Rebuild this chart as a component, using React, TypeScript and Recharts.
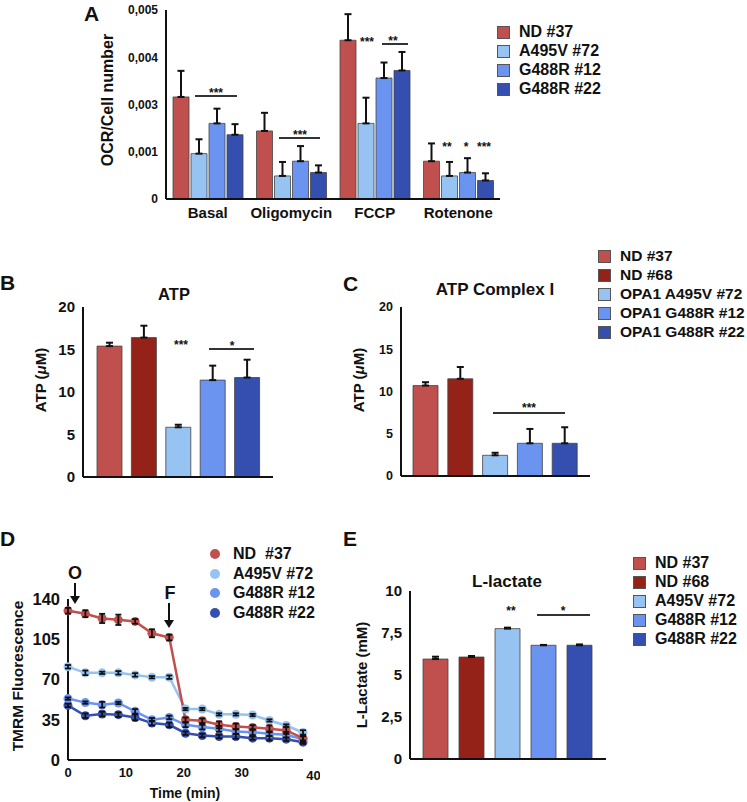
import React from "react"
import { Bar, BarChart, Cell, ErrorBar, Line, LineChart, XAxis, YAxis } from "recharts"

const FONT = '"Liberation Sans", Arial, Helvetica, sans-serif'
const INK = "#111"

const COLORS = {
  nd37: "#c0504d",
  nd68: "#952219",
  a495v: "#97c3f2",
  g12: "#6b93f0",
  g22: "#354fb0",
}

// Panel A: OCR per cell number
const aCategories = ["Basal", "Oligomycin", "FCCP", "Rotenone"]
const aND37 = [0.0027, 0.0018, 0.0042, 0.001]
const aND37Err = [0.00069, 0.00048, 0.00069, 0.00047]
const aA495V = [0.0012, 0.00061, 0.002, 0.00061]
const aA495VErr = [0.00038, 0.00037, 0.00068, 0.00037]
const aG12 = [0.002, 0.001, 0.0032, 0.0007]
const aG12Err = [0.00039, 0.0004, 0.00041, 0.00038]
const aG22 = [0.0017, 0.0007, 0.0034, 0.00049]
const aG22Err = [0.00028, 0.00019, 0.00049, 0.00019]
const aTickLabels = ["0", "0,001", "0,003", "0,004", "0,005"]
const aLegend = ["ND #37", "A495V #72", "G488R #12", "G488R #22"]

// Panels B, C, E: five cell lines
const fiveColors = [COLORS.nd37, COLORS.nd68, COLORS.a495v, COLORS.g12, COLORS.g22]
const fiveNames = ["ND #37", "ND #68", "A495V #72", "G488R #12", "G488R #22"]
const bValues = [15.4, 16.4, 5.85, 11.4, 11.7]
const bErr = [0.4, 1.4, 0.3, 1.7, 2.1]
const cValues = [10.7, 11.5, 2.45, 3.87, 3.87]
const cErr = [0.4, 1.4, 0.3, 1.7, 1.9]
const eValues = [5.95, 6.07, 7.76, 6.77, 6.77]
const eErr = [0.14, 0.06, 0.06, 0.02, 0.05]
const bcLegend = ["ND #37", "ND #68", "OPA1 A495V #72", "OPA1 G488R #12", "OPA1 G488R #22"]

// Panel D: TMRM fluorescence over time
const dTimes = [0, 3.0, 5.9, 8.7, 11.6, 14.5, 17.5, 20.3, 23.2, 26.1, 29.0, 31.9, 34.8, 37.7, 40.6]
const dND37 = [129.8, 127.2, 123.1, 121.9, 120.5, 110.2, 106.5, 35.0, 34.1, 30.6, 29.2, 28.3, 27.1, 25.7, 19.0]
const dND37Err = [2.5, 3, 4, 4.5, 2, 3.5, 2.5, 2, 2, 3, 2.5, 2, 3, 3, 3]
const dA495V = [81.1, 75.8, 75.8, 75.8, 74.0, 72.0, 72.0, 44.3, 44.3, 39.7, 39.7, 39.1, 34.4, 30.0, 23.9]
const dA495VErr = [1.5, 2, 1, 1.5, 1.5, 1, 1.5, 1, 1, 1, 1, 1, 1, 1, 2]
const dG12 = [53.4, 49.9, 48.1, 49.6, 42.3, 35.0, 37.0, 30.6, 28.6, 27.1, 24.8, 24.2, 22.8, 21.9, 18.1]
const dG12Err = [1, 1, 2.5, 1, 2, 1.5, 1.5, 2, 2, 2.5, 2, 2.5, 2, 2.5, 2.5]
const dG22 = [47.5, 38.5, 40.0, 39.4, 37.0, 32.1, 30.6, 23.3, 21.3, 20.4, 20.4, 19.0, 19.0, 18.1, 15.5]
const dG22Err = [1.5, 2, 2, 2, 2.5, 2, 2, 1.5, 1.5, 1.5, 2, 1.5, 2, 1.5, 1.5]
const dLegend = ["ND  #37", "A495V #72", "G488R #12", "G488R #22"]
const dColors = [COLORS.nd37, COLORS.a495v, COLORS.g12, COLORS.g22]

const aRows = aCategories.map((cat, i) => ({
  cat,
  nd37: aND37[i],
  nd37Err: [0, aND37Err[i]],
  a495v: aA495V[i],
  a495vErr: [0, aA495VErr[i]],
  g12: aG12[i],
  g12Err: [0, aG12Err[i]],
  g22: aG22[i],
  g22Err: [0, aG22Err[i]],
}))

const makeRows = (values: number[], errs: number[]) =>
  values.map((v, i) => ({ name: fiveNames[i], value: v, err: [0, errs[i]] }))

const dRows = dTimes.map((t, i) => ({
  t,
  nd37: dND37[i],
  nd37Err: dND37Err[i],
  a495v: dA495V[i],
  a495vErr: dA495VErr[i],
  g12: dG12[i],
  g12Err: dG12Err[i],
  g22: dG22[i],
  g22Err: dG22Err[i],
}))

const axisLine = { stroke: INK, strokeWidth: 2 }
const tickStyle = (size: number) => ({ fontSize: size, fontWeight: 700, fill: INK, fontFamily: FONT })

function Txt({ x, y, size = 15, children, anchor = "left", rotate = false }: any) {
  const tx = anchor === "center" ? "-50%" : "0"
  return (
    <div
      style={{
        position: "absolute",
        left: x,
        top: y,
        transform: rotate ? "translate(-50%,-50%) rotate(-90deg)" : `translate(${tx},-50%)`,
        fontFamily: FONT,
        fontWeight: 700,
        fontSize: size,
        color: INK,
        whiteSpace: "pre",
        lineHeight: 1,
      }}
    >
      {children}
    </div>
  )
}

function Stars({ x, y, text }: { x: number; y: number; text: string }) {
  return (
    <Txt x={x} y={y + 3} size={12} anchor="center">
      {text}
    </Txt>
  )
}

function SigLine({ x1, x2, y }: { x1: number; x2: number; y: number }) {
  return <div style={{ position: "absolute", left: x1, top: y - 0.75, width: x2 - x1, height: 1.5, background: "#333" }} />
}

function SquareLegend({ x, y, labels, colors, gap, size = 16 }: any) {
  return (
    <>
      {labels.map((label: string, i: number) => (
        <React.Fragment key={label}>
          <div
            style={{
              position: "absolute",
              left: x,
              top: y + i * gap - 6,
              width: 11,
              height: 11,
              background: colors[i],
              border: "1px solid #555",
            }}
          />
          <Txt x={x + 22} y={y + i * gap} size={size}>
            {label}
          </Txt>
        </React.Fragment>
      ))}
    </>
  )
}

function FiveBarChart({ left, top, width, height, yWidth, rows, tickSize, domain, ticks, fmt, padding }: any) {
  return (
    <div style={{ position: "absolute", left, top }}>
      <BarChart width={width} height={height} data={rows} margin={{ top: 10, right: 10, bottom: 0, left: 0 }}>
        <XAxis dataKey="name" height={20} tick={false} tickLine={false} axisLine={axisLine} padding={padding} />
        <YAxis
          width={yWidth}
          domain={domain}
          ticks={ticks}
          interval={0}
          tickFormatter={fmt}
          tickLine={false}
          axisLine={axisLine}
          tick={tickStyle(tickSize)}
        />
        <Bar dataKey="value" barSize={25} stroke="#444" strokeWidth={0.8} isAnimationActive={false}>
          {rows.map((_: any, i: number) => (
            <Cell key={i} fill={fiveColors[i]} />
          ))}
          <ErrorBar dataKey="err" width={3.5} strokeWidth={2} stroke={INK} />
        </Bar>
      </BarChart>
    </div>
  )
}

function DTick({ x, y, payload }: any) {
  const last = payload.value === 40
  return (
    <text
      x={x + (last ? 14 : 0)}
      y={y + (last ? 3 : 0)}
      dy="0.71em"
      textAnchor="middle"
      style={tickStyle(13)}
    >
      {payload.value}
    </text>
  )
}

function Arrow({ x, y1, y2 }: { x: number; y1: number; y2: number }) {
  return (
    <svg style={{ position: "absolute", left: x - 6, top: y1, overflow: "visible" }} width={12} height={y2 - y1}>
      <line x1={6} y1={0} x2={6} y2={y2 - y1 - 4} stroke={INK} strokeWidth={2} />
      <polygon points={`1,${y2 - y1 - 8} 11,${y2 - y1 - 8} 6,${y2 - y1}`} fill={INK} />
    </svg>
  )
}

// same plot geometry for the TMRM chart and its error-bar overlay
function TmrmChart({ overlay }: { overlay: boolean }) {
  const dKeys = ["g22", "g12", "a495v", "nd37"]
  const keyColor: Record<string, string> = COLORS
  return (
    <LineChart width={320} height={213} data={dRows} margin={{ top: 10, right: 17, bottom: 20, left: 0 }}>
      <XAxis
        dataKey="t"
        type="number"
        domain={[0, 40.6]}
        ticks={[0, 10, 20, 30, 40]}
        height={22}
        tickLine={false}
        axisLine={overlay ? false : axisLine}
        tick={overlay ? false : <DTick />}
      />
      <YAxis
        width={68}
        domain={[0, 140]}
        ticks={[0, 35, 70, 105, 140]}
        interval={0}
        tickLine={false}
        axisLine={overlay ? false : axisLine}
        tick={overlay ? false : tickStyle(16.5)}
      />
      {dKeys.map((k) =>
        overlay ? (
          <Line key={k} dataKey={k} stroke="none" dot={false} activeDot={false} isAnimationActive={false}>
            <ErrorBar dataKey={`${k}Err`} direction="y" width={3} strokeWidth={1.8} stroke={INK} />
          </Line>
        ) : (
          <Line
            key={k}
            dataKey={k}
            stroke={keyColor[k]}
            strokeWidth={2.5}
            dot={{ r: 4.5, fill: keyColor[k], stroke: keyColor[k], strokeWidth: 0 }}
            activeDot={false}
            isAnimationActive={false}
          />
        ),
      )}
    </LineChart>
  )
}

export default function App() {
  const aKeys = ["nd37", "a495v", "g12", "g22"]
  const aTicks = aTickLabels.map((_, i) => (i * 0.005) / (aTickLabels.length - 1))
  const aKeyColor: Record<string, string> = COLORS

  return (
    <div style={{ position: "absolute", left: 0, top: 0, width: 747, height: 802, background: "#fff", overflow: "hidden" }}>
      {/* Panel A */}
      <div style={{ position: "absolute", left: 0, top: 0 }}>
        <BarChart width={520} height={230} data={aRows} margin={{ top: 10, right: 20, bottom: 0, left: 0 }} barCategoryGap={7} barGap={2}>
          <XAxis dataKey="cat" height={31} tickLine={false} axisLine={axisLine} interval={0} tick={tickStyle(15)} />
          <YAxis
            width={166}
            domain={[0, 0.005]}
            ticks={aTicks}
            interval={0}
            tickFormatter={(_: number, i: number) => aTickLabels[i]}
            tickLine={false}
            axisLine={axisLine}
            tick={tickStyle(12)}
          />
          {aKeys.map((k) => (
            <Bar key={k} dataKey={k} fill={aKeyColor[k]} stroke="#444" strokeWidth={0.8} isAnimationActive={false}>
              <ErrorBar dataKey={`${k}Err`} width={3.5} strokeWidth={2} stroke={INK} />
            </Bar>
          ))}
        </BarChart>
      </div>
      <Txt x={84} y={13} size={21}>A</Txt>
      <Txt x={108} y={100} size={16} rotate>OCR/Cell number</Txt>
      <SquareLegend x={497} y={32} labels={aLegend} colors={[COLORS.nd37, COLORS.a495v, COLORS.g12, COLORS.g22]} gap={19} />
      <SigLine x1={195} x2={237} y={96} />
      <Stars x={216} y={90} text="***" />
      <SigLine x1={279} x2={320} y={138} />
      <Stars x={300} y={132} text="***" />
      <Stars x={367} y={39} text="***" />
      <SigLine x1={382} x2={408} y={44} />
      <Stars x={393} y={38} text="**" />
      <Stars x={447} y={144} text="**" />
      <Stars x={466} y={144} text="*" />
      <Stars x={484} y={144} text="***" />

      {/* Panel B */}
      <FiveBarChart
        left={0}
        top={297}
        width={283}
        height={200}
        yWidth={83}
        rows={makeRows(bValues, bErr)}
        tickSize={15}
        domain={[0, 20]}
        ticks={[0, 5, 10, 15, 20]}
        padding={{ left: 9, right: 9 }}
      />
      <Txt x={0} y={282} size={21}>B</Txt>
      <Txt x={174} y={294} size={16.5} anchor="center">ATP</Txt>
      <Txt x={40} y={380} size={15} rotate>
        ATP (<span style={{ fontStyle: "italic" }}>μ</span>M)
      </Txt>
      <Stars x={181} y={342} text="***" />
      <SigLine x1={209} x2={254} y={349} />
      <Stars x={232} y={343} text="*" />

      {/* Panel C */}
      <FiveBarChart
        left={330}
        top={297}
        width={270}
        height={199}
        yWidth={71}
        rows={makeRows(cValues, cErr)}
        tickSize={12.5}
        domain={[0, 20]}
        ticks={[0, 5, 10, 15, 20]}
        padding={{ left: 7, right: 8 }}
      />
      <Txt x={343} y={283} size={21}>C</Txt>
      <Txt x={495} y={289} size={17} anchor="center">ATP Complex I</Txt>
      <Txt x={358} y={380} size={15} rotate>
        ATP (<span style={{ fontStyle: "italic" }}>μ</span>M)
      </Txt>
      <SigLine x1={493} x2={565} y={413} />
      <Stars x={529} y={405} text="***" />
      <SquareLegend x={598} y={256} labels={bcLegend} colors={fiveColors} gap={19} size={15.5} />

      {/* Panel D */}
      <div style={{ position: "absolute", left: 0, top: 589 }}>
        <TmrmChart overlay={false} />
      </div>
      <div style={{ position: "absolute", left: 0, top: 589 }}>
        <TmrmChart overlay />
      </div>
      <Txt x={0} y={538} size={21}>D</Txt>
      <Txt x={18} y={676} size={15.5} rotate>TMRM Fluorescence</Txt>
      <Txt x={185} y={793} size={14} anchor="center">Time (min)</Txt>
      <Txt x={75} y={573} size={18} anchor="center">O</Txt>
      <Arrow x={75} y1={583} y2={604} />
      <Txt x={170} y={593} size={18} anchor="center">F</Txt>
      <Arrow x={169} y1={603} y2={628} />
      {dLegend.map((label, i) => (
        <React.Fragment key={label}>
          <div
            style={{
              position: "absolute",
              left: 210,
              top: 554 + i * 19.5 - 5,
              width: 10,
              height: 10,
              borderRadius: 5,
              background: dColors[i],
            }}
          />
          <Txt x={233} y={554 + i * 19.5} size={16}>{label}</Txt>
        </React.Fragment>
      ))}

      {/* Panel E */}
      <FiveBarChart
        left={340}
        top={581}
        width={276}
        height={198}
        yWidth={70}
        rows={makeRows(eValues, eErr)}
        tickSize={15}
        domain={[0, 10]}
        ticks={[0, 2.5, 5, 7.5, 10]}
        fmt={(v: number) => String(v).replace(".", ",")}
        padding={{ left: 7, right: 9 }}
      />
      <Txt x={343} y={538} size={21}>E</Txt>
      <Txt x={507} y={581} size={17} anchor="center">L-lactate</Txt>
      <Txt x={361} y={675} size={15} rotate>L-Lactate (mM)</Txt>
      <Stars x={511} y={608} text="**" />
      <SigLine x1={537} x2={590} y={615} />
      <Stars x={563} y={608} text="*" />
      <SquareLegend x={633} y={563} labels={fiveNames} colors={fiveColors} gap={19} />
    </div>
  )
}
